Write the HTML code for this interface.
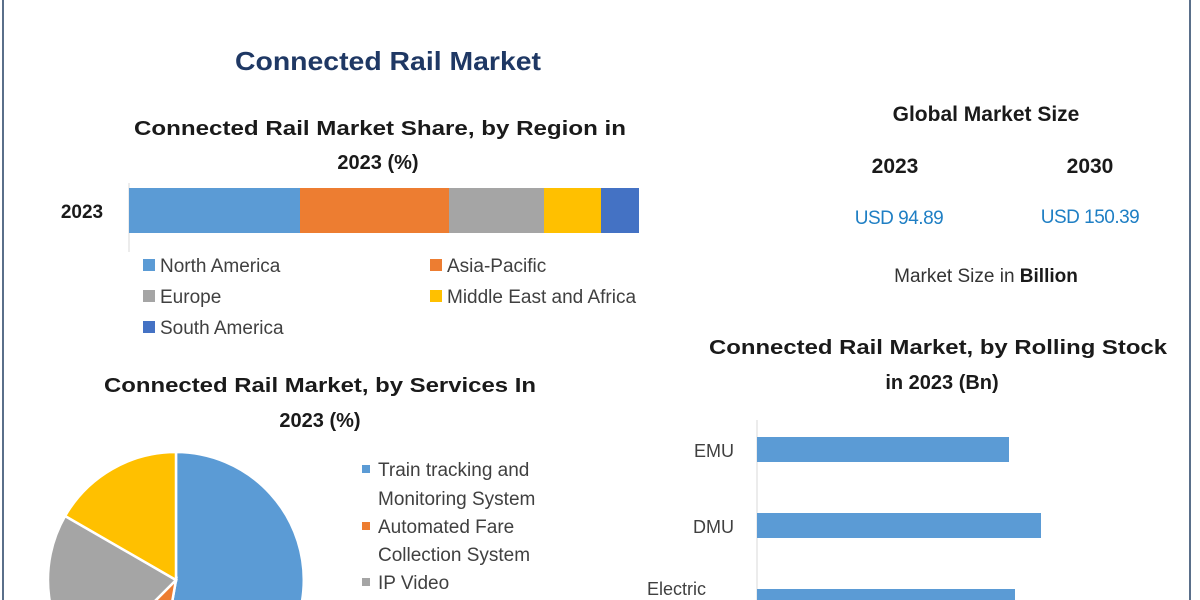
<!DOCTYPE html>
<html><head><meta charset="utf-8"><style>
html,body{margin:0;padding:0;background:#fff;width:1200px;height:600px;overflow:hidden}
svg{display:block}
text{font-family:"Liberation Sans",sans-serif}
</style></head><body>
<svg width="1200" height="600" viewBox="0 0 1200 600" xmlns="http://www.w3.org/2000/svg" overflow="hidden">
<defs><clipPath id="c"><rect width="1200" height="600"/></clipPath></defs>
<g clip-path="url(#c)">
<rect width="1200" height="600" fill="#fff"/>
<line x1="3" y1="0" x2="3" y2="600" stroke="#5a6f8a" stroke-width="2"/>
<line x1="1190" y1="0" x2="1190" y2="600" stroke="#5a6f8a" stroke-width="2"/>

<text x="388" y="70" text-anchor="middle" font-size="26" font-weight="bold" fill="#1f3864" textLength="306" lengthAdjust="spacingAndGlyphs">Connected Rail Market</text>

<g font-weight="bold" font-size="20" fill="#1a1a1a" text-anchor="middle">
<text x="380" y="135" textLength="492" lengthAdjust="spacingAndGlyphs">Connected Rail Market Share, by Region in</text>
<text x="378" y="169">2023 (%)</text>
<text x="82" y="218" font-size="19">2023</text>
</g>
<line x1="129" y1="183" x2="129" y2="252" stroke="#d9d9d9"/>
<rect x="129" y="188" width="171" height="45" fill="#5b9bd5"/>
<rect x="300" y="188" width="149" height="45" fill="#ed7d31"/>
<rect x="449" y="188" width="95" height="45" fill="#a5a5a5"/>
<rect x="544" y="188" width="57" height="45" fill="#ffc000"/>
<rect x="601" y="188" width="38" height="45" fill="#4472c4"/>
<g font-size="19" fill="#404040">
<rect x="143" y="259" width="12" height="12" fill="#5b9bd5"/><text x="160" y="272">North America</text>
<rect x="430" y="259" width="12" height="12" fill="#ed7d31"/><text x="447" y="272">Asia-Pacific</text>
<rect x="143" y="290" width="12" height="12" fill="#a5a5a5"/><text x="160" y="303">Europe</text>
<rect x="430" y="290" width="12" height="12" fill="#ffc000"/><text x="447" y="303">Middle East and Africa</text>
<rect x="143" y="321" width="12" height="12" fill="#4472c4"/><text x="160" y="334">South America</text>
</g>

<g font-weight="bold" font-size="20" fill="#1a1a1a" text-anchor="middle">
<text x="320" y="392" textLength="432" lengthAdjust="spacingAndGlyphs">Connected Rail Market, by Services In</text>
<text x="320" y="427">2023 (%)</text>
</g>
<g stroke="#fff" stroke-width="2.5">
<path d="M176,580 L176,452 A128,128 0 1 1 153.8,706.1 Z" fill="#5b9bd5"/>
<path d="M176,580 L153.8,706.1 A128,128 0 0 1 85.5,670.5 Z" fill="#ed7d31"/>
<path d="M176,580 L85.5,670.5 A128,128 0 0 1 65.1,516 Z" fill="#a5a5a5"/>
<path d="M176,580 L65.1,516 A128,128 0 0 1 176,452 Z" fill="#ffc000"/>
</g>
<g font-size="19" fill="#404040">
<rect x="362" y="465" width="8" height="8" fill="#5b9bd5"/><text x="378" y="476">Train tracking and</text>
<text x="378" y="505">Monitoring System</text>
<rect x="362" y="522" width="8" height="8" fill="#ed7d31"/><text x="378" y="533">Automated Fare</text>
<text x="378" y="561">Collection System</text>
<rect x="362" y="578" width="8" height="8" fill="#a5a5a5"/><text x="378" y="589">IP Video</text>
</g>

<g text-anchor="middle">
<text x="986" y="121" font-size="21" font-weight="bold" fill="#1a1a1a">Global Market Size</text>
<text x="895" y="173" font-size="21" font-weight="bold" fill="#1a1a1a">2023</text>
<text x="1090" y="173" font-size="21" font-weight="bold" fill="#1a1a1a">2030</text>
<text x="899" y="224" font-size="19" fill="#1f7fc4" letter-spacing="-0.5">USD 94.89</text>
<text x="1090" y="223" font-size="19" fill="#1f7fc4" letter-spacing="-0.5">USD 150.39</text>
<text x="986" y="282" font-size="19" fill="#333">Market Size in <tspan font-weight="bold" fill="#1a1a1a">Billion</tspan></text>
<text x="938" y="354" font-size="20" font-weight="bold" fill="#1a1a1a" textLength="458" lengthAdjust="spacingAndGlyphs">Connected Rail Market, by Rolling Stock</text>
<text x="942" y="389" font-size="20" font-weight="bold" fill="#1a1a1a">in 2023 (Bn)</text>
</g>
<line x1="757" y1="420" x2="757" y2="600" stroke="#d9d9d9"/>
<rect x="757" y="437" width="252" height="25" fill="#5b9bd5"/>
<rect x="757" y="513" width="284" height="25" fill="#5b9bd5"/>
<rect x="757" y="589" width="258" height="11" fill="#5b9bd5"/>
<g font-size="18" fill="#404040">
<text x="734" y="457" text-anchor="end">EMU</text>
<text x="734" y="533" text-anchor="end">DMU</text>
<text x="647" y="595">Electric</text>
</g>
</g>
</svg>
</body></html>
